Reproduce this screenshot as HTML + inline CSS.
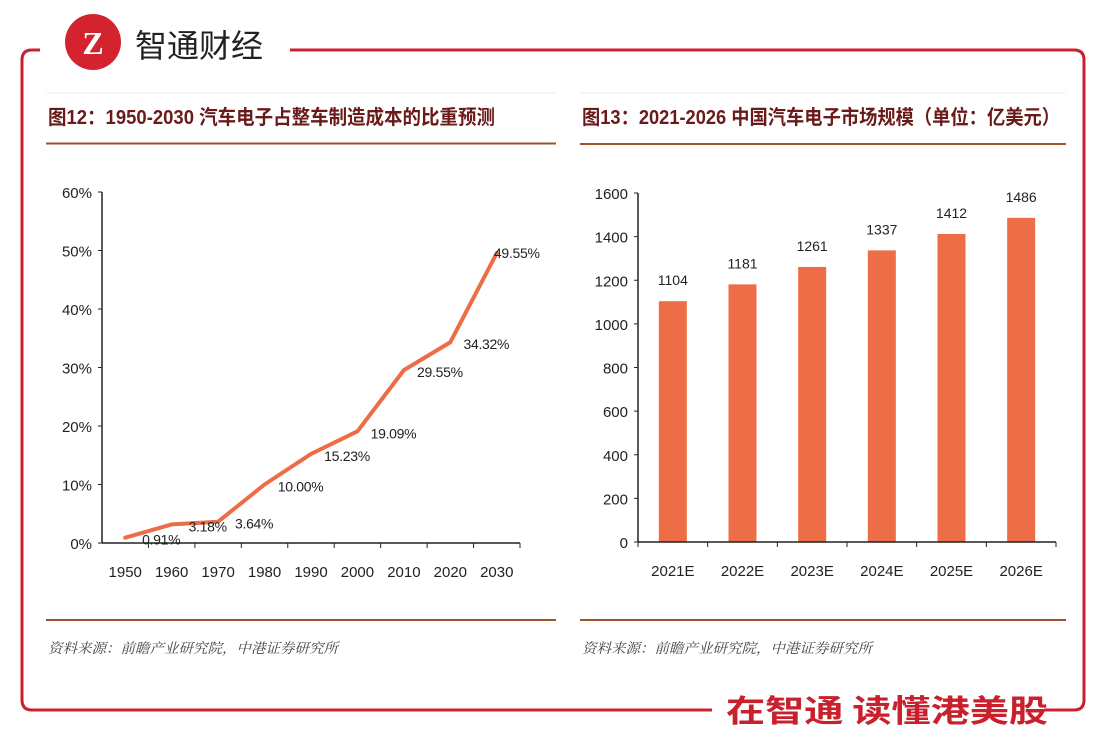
<!DOCTYPE html>
<html><head><meta charset="utf-8"><style>
html,body{margin:0;padding:0;background:#fff;}
svg{display:block;font-family:"Liberation Sans","Noto Sans CJK SC",sans-serif;}
</style></head><body>
<svg id="s" width="1106" height="748" viewBox="0 0 1106 748">
<g fill="none" stroke="#c8202c" stroke-width="3">
<path d="M40 50 H32 Q22 50 22 60 V700 Q22 710 32 710 H712"/>
<path d="M290 50 H1074 Q1084 50 1084 60 V700 Q1084 710 1074 710 H1044"/>
</g>
<g>
<circle cx="93" cy="42" r="28" fill="#d3232e"/>
<text x="93" y="54" text-anchor="middle" font-size="32" font-weight="bold" fill="#fff" font-family="Liberation Serif,serif">Z</text>
<text x="135" y="57" font-size="32" fill="#222" font-family="Noto Sans CJK SC,sans-serif">智通财经</text>
</g>
<line x1="46" y1="93" x2="556" y2="93" stroke="#eee"/>
<line x1="580" y1="93" x2="1066" y2="93" stroke="#eee"/>
<text x="48" y="124" font-size="20" font-weight="bold" fill="#6b1a1a" textLength="447" lengthAdjust="spacingAndGlyphs">图12：1950-2030 汽车电子占整车制造成本的比重预测</text>
<text x="582" y="124" font-size="20" font-weight="bold" fill="#6b1a1a" textLength="478" lengthAdjust="spacingAndGlyphs">图13：2021-2026 中国汽车电子市场规模（单位：亿美元）</text>
<line x1="46" y1="143.5" x2="556" y2="143.5" stroke="#a0522d" stroke-width="2"/>
<line x1="580" y1="144" x2="1066" y2="144" stroke="#a0522d" stroke-width="2"/>
<line x1="46" y1="620" x2="556" y2="620" stroke="#a0522d" stroke-width="2"/>
<line x1="580" y1="620" x2="1066" y2="620" stroke="#a0522d" stroke-width="2"/>
<text x="48" y="653" font-size="14" font-style="italic" fill="#444" font-family="Noto Serif CJK SC,serif" textLength="290" lengthAdjust="spacingAndGlyphs">资料来源：前瞻产业研究院，中港证券研究所</text>
<text x="582" y="653" font-size="14" font-style="italic" fill="#444" font-family="Noto Serif CJK SC,serif" textLength="290" lengthAdjust="spacingAndGlyphs">资料来源：前瞻产业研究院，中港证券研究所</text>
<text x="726" y="722" font-size="31" font-weight="bold" fill="#c8202c" font-family="Noto Sans CJK SC,sans-serif" textLength="322" lengthAdjust="spacingAndGlyphs">在智通 读懂港美股</text>
<g id="lc"></g>
<g id="bc"></g>
</svg>
<script>
const lineCats=["1950","1960","1970","1980","1990","2000","2010","2020","2030"];
const lineVals=[0.91,3.18,3.64,10.00,15.23,19.09,29.55,34.32,49.55];
const lineLabels=["0.91%","3.18%","3.64%","10.00%","15.23%","19.09%","29.55%","34.32%","49.55%"];
const lineTicks=[0,10,20,30,40,50,60];
const barCats=["2021E","2022E","2023E","2024E","2025E","2026E"];
const barVals=[1104,1181,1261,1337,1412,1486];
const barTicks=[0,200,400,600,800,1000,1200,1400,1600];
const NS="http://www.w3.org/2000/svg";
function mk(p,t,a,txt){const e=document.createElementNS(NS,t);for(const k in a)e.setAttribute(k,a[k]);if(txt!==undefined)e.textContent=txt;p.appendChild(e);return e;}
// line chart
const lc=document.getElementById('lc');
const lx0=102,lx1=520,ly0=543,ly1=192;
const lbw=(lx1-lx0)/lineCats.length;
const lX=i=>lx0+lbw*(i+0.5);
const lY=v=>ly0-(v-0)/(60-0)*(ly0-ly1);
let e=mk(lc,'line',{x1:lx0,y1:ly1,x2:lx0,y2:ly0,stroke:'#222','stroke-width':1.5});

e=mk(lc,'line',{x1:lx0,y1:ly0,x2:lx1,y2:ly0,stroke:'#222','stroke-width':1.5});

lineTicks.forEach(t=>{mk(lc,'line',{x1:lx0-4,y1:lY(t),x2:lx0,y2:lY(t),stroke:'#222'});
e=mk(lc,'text',{x:lx0-10,y:lY(t)+6,'text-anchor':'end','font-size':15,fill:'#222'},t+'%');
});
lineCats.forEach((c,i)=>{const tx=lx0+lbw*(i+1);mk(lc,'line',{x1:tx,y1:ly0,x2:tx,y2:ly0+5,stroke:'#222'});
e=mk(lc,'text',{x:lX(i),y:ly0+34,'text-anchor':'middle','font-size':15,fill:'#222'},c);
});
e=mk(lc,'polyline',{points:lineVals.map((v,i)=>lX(i)+','+lY(v)).join(' '),fill:'none',stroke:'#ed6d46','stroke-width':4,'stroke-linejoin':'round','stroke-linecap':'round'});

lineVals.forEach((v,i)=>{const last=i===lineVals.length-1;
e=mk(lc,'text',{x:lX(i)+(last?20:36),y:lY(v)+(last?5:7),'text-anchor':'middle','font-size':14,fill:'#222','letter-spacing':-0.3},lineLabels[i]);
});
// bar chart
const bc=document.getElementById('bc');
const bx0=638,bx1=1056,by0=542,by1=193;
const bbw=(bx1-bx0)/barCats.length;
const bX=i=>bx0+bbw*(i+0.5);
const bY=v=>by0-v/1600*(by0-by1);
e=mk(bc,'line',{x1:bx0,y1:by1,x2:bx0,y2:by0,stroke:'#222','stroke-width':1.5});

barTicks.forEach(t=>{mk(bc,'line',{x1:bx0-4,y1:bY(t),x2:bx0,y2:bY(t),stroke:'#222'});
e=mk(bc,'text',{x:bx0-10,y:bY(t)+6,'text-anchor':'end','font-size':15,fill:'#222'},t);
});
barCats.forEach((c,i)=>{const h=by0-bY(barVals[i]);
e=mk(bc,'rect',{x:bX(i)-14,y:bY(barVals[i]),width:28,height:h,fill:'#ed6d46'});

e=mk(bc,'text',{x:bX(i),y:bY(barVals[i])-16,'text-anchor':'middle','font-size':14,fill:'#222'},barVals[i]);

e=mk(bc,'text',{x:bX(i),y:by0+34,'text-anchor':'middle','font-size':15,fill:'#222'},c);
});
e=mk(bc,'line',{x1:bx0,y1:by0,x2:bx1,y2:by0,stroke:'#222','stroke-width':1.5});

for(let i=0;i<=barCats.length;i++){const tx=bx0+bbw*i;mk(bc,'line',{x1:tx,y1:by0,x2:tx,y2:by0+5,stroke:'#222'});}
</script>
</body></html>
